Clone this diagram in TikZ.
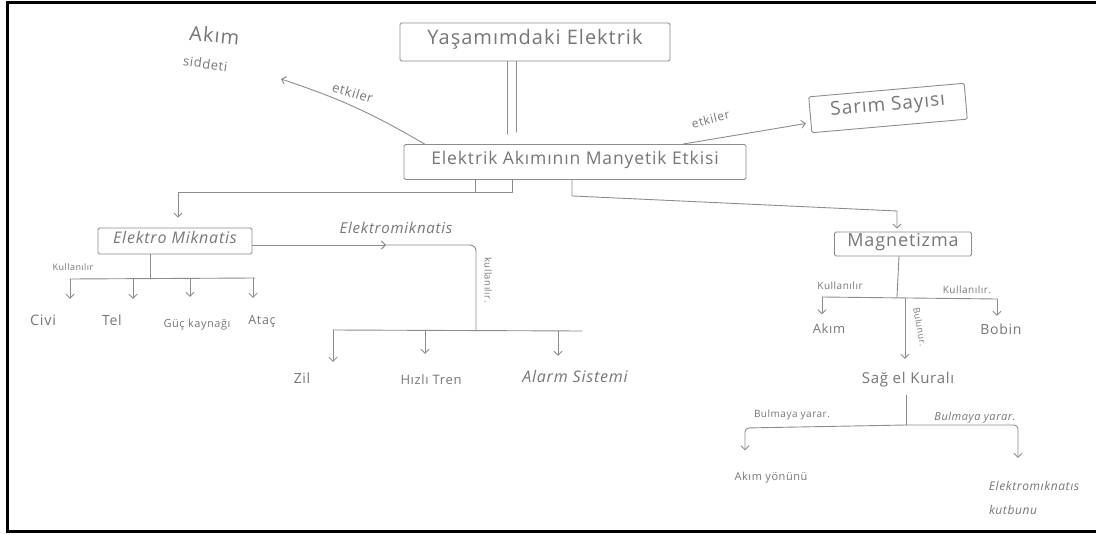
\documentclass[tikz,border=0pt]{standalone}
\usepackage{fontspec}
\setmainfont{Open Sans}[LetterSpace=5]
\usetikzlibrary{arrows.meta}
\definecolor{pencil}{HTML}{8C8C8C}
\definecolor{graphite}{HTML}{767676}
\newcommand\penfont[1]{\fontsize{#1}{#1}\selectfont}
\begin{document}
\begin{tikzpicture}[x=1pt,y=-1pt,
  txt/.style={text=graphite, inner sep=1pt, text height=0.75em, text depth=0.25em},
  conbox/.style={txt, draw=pencil, line width=0.9pt, rounded corners=1.5pt},
  link/.style={draw=pencil, line width=0.9pt, line cap=round, line join=round},
  tip/.style={link, -{Straight Barb[length=4pt,width=8pt,line width=0.9pt]}},
]
\useasboundingbox (0,0) rectangle (1096,535);
% page frame
\draw[line width=3pt] (1096,3) -- (7,3) -- (7,531) -- (1096,531);

% concept boxes
\node[conbox, minimum width=270pt, minimum height=38pt, font=\penfont{20}] (top) at (535,42) {Yaşamımdaki Elektrik};
\node[conbox, minimum width=342pt, minimum height=35pt, font=\penfont{17.5}] (main) at (575,162) {Elektrik Akımının Manyetik Etkisi};
\node[conbox, minimum width=156pt, minimum height=36pt, rotate=5, font=\penfont{19}] (sarim) at (888,108) {Sarım Sayısı};
\node[conbox, minimum width=154pt, minimum height=26pt, font=\penfont{16}\itshape] (elmag) at (175,241) {Elektro Miknatis};
\node[conbox, minimum width=137pt, minimum height=24pt, font=\penfont{18}] (mag) at (903,244) {Magnetizma};

% free concepts
\node[txt, rotate=-5, font=\penfont{20}] (akim) at (214,40) {Akım};
\node[txt, rotate=-8, font=\penfont{13}] (siddet) at (205,66) {siddeti};
\node[txt, font=\penfont{14.5}] (civi) at (43,323) {Civi};
\node[txt, font=\penfont{14}] (tel) at (112,323) {Tel};
\node[txt, font=\penfont{11}] (guc) at (197,325) {Güç kaynağı};
\node[txt, font=\penfont{12.5}] (atac) at (262,322) {Ataç};
\node[txt, font=\penfont{14}] (zil) at (302,381) {Zil};
\node[txt, font=\penfont{13}] (hizli) at (431,382) {Hızlı Tren};
\node[txt, font=\penfont{16}\itshape] (alarm) at (575,380) {Alarm Sistemi};
\node[txt, font=\penfont{13}] (akim2) at (829,331) {Akım};
\node[txt, font=\penfont{14}] (bobin) at (1001,332) {Bobin};
\node[txt, font=\penfont{15}] (sagel) at (908,381) {Sağ el Kuralı};
\node[txt, font=\penfont{11}] (yon) at (771,478) {Akım yönünü};
\node[txt, font=\penfont{12}\itshape] (elmk) at (1034,488) {Elektromıknatıs};
\node[txt, font=\penfont{12}\itshape] (kutup) at (1013,512) {kutbunu};

% link labels
\node[txt, rotate=-17, font=\penfont{13}] (etk1) at (352,95) {etkiler};
\node[txt, rotate=14, font=\penfont{12}] (etk2) at (711,121) {etkiler};
\node[txt, font=\penfont{9}] (kul1) at (73,268) {Kullanılır};
\node[txt, font=\penfont{15}\itshape] (em) at (396,231) {Elektromiknatis};
\node[txt, rotate=-90, font=\penfont{9.5}] (kul2) at (487,280) {kullanılır.};
\node[txt, font=\penfont{10}] (kul3) at (840,287) {Kullanılır};
\node[txt, font=\penfont{10}] (kul4) at (967,291) {Kullanılır.};
\node[txt, rotate=-80, font=\penfont{9}] (bul) at (919,327) {Bulunur.};
\node[txt, font=\penfont{10}] (by1) at (792,415) {Bulmaya yarar.};
\node[txt, font=\penfont{11}\itshape] (by2) at (975,418) {Bulmaya yarar.};

% junction points
\coordinate (akimtip) at (281,79);
\coordinate (jB) at (178,192);
\coordinate (jC) at (897,211);
\coordinate (jD) at (70,279);
\coordinate (jE) at (255,278);
\coordinate (b2) at (133,279);
\coordinate (b3) at (190,279);
\coordinate (b4) at (253,278);
\coordinate (em1) at (386,245);
\coordinate (em2) at (476,245);
\coordinate (jF) at (476,330);
\coordinate (jG) at (333,330);
\coordinate (jH) at (582,331);
\coordinate (c2) at (425,330);
\coordinate (c3) at (558,331);
\coordinate (jI) at (897,297);
\coordinate (mL) at (822,297);
\coordinate (mR) at (997,299);
\coordinate (mM) at (905,298);
\coordinate (jJ) at (906,425);
\coordinate (sL) at (745,428);
\coordinate (sR) at (1018,425);

% top concept to main concept (double stroke)
\draw[link, shorten >=10pt] ([xshift=-28pt]top.south) -- ([xshift=-28pt]top.south |- main.north);
\draw[link, shorten >=12pt] ([xshift=-19pt]top.south) -- ([xshift=-19pt]top.south |- main.north);

% "etkiler" links
\draw[tip] ([xshift=21pt]main.north west) to[bend right=6] (akimtip);
\draw[tip, shorten >=4pt] ([xshift=108pt]main.north) -- ([yshift=-8pt]sarim.west);

% main concept to Elektro Miknatis
\draw[link] ([xshift=-100pt]main.south) -- ++(0,12);
\draw[tip] ([xshift=-63pt]main.south) |- (jB) -- ([yshift=10pt]jB |- elmag.north);

% main concept to Magnetizma
\draw[tip] ([xshift=-3pt]main.south) -- ++(0,16) -- (jC) -- ([yshift=3pt]jC |- mag.north);

% Elektro Miknatis uses
\draw[link] ([xshift=-25pt]elmag.south) -- ([xshift=-25pt]elmag.south |- jD);
\draw[link] (jD) -- (jE);
\draw[tip, shorten >=18pt] (jD) -- (jD |- civi.north);
\draw[tip, shorten >=18pt] (b2) -- (b2 |- tel.north);
\draw[tip, shorten >=22pt] (b3) -- (b3 |- guc.north);
\draw[tip, shorten >=18pt] (b4) -- (b4 |- atac.north);

% Elektromiknatis applications
\draw[tip] ([yshift=-4pt]elmag.east) -- (em1);
\draw[link, rounded corners=6pt] (em1) -- (em2) -- (jF);
\draw[link] (jG) -- (jH);
\draw[tip, shorten >=13pt] (jG) -- (jG |- zil.north);
\draw[tip, shorten >=22pt] (c2) -- (c2 |- hizli.north);
\draw[tip, shorten >=18pt] (c3) -- (c3 |- alarm.north);

% Magnetizma branches
\draw[link] ([xshift=-4pt]mag.south) -- (jI);
\draw[link] (mL) -- (mR);
\draw[tip, shorten >=10.5pt] (mL) -- (mL |- akim2.north);
\draw[tip, shorten >=10pt] (mR) -- (mR |- bobin.north);
\draw[tip, shorten >=16pt] (mM) -- (mM |- sagel.north);

% Sag el Kurali branches
\draw[link, shorten <=8pt] ([xshift=-2pt]sagel.south) -- (jJ);
\draw[tip, rounded corners=4pt, shorten >=21.5pt] (jJ) -- (sL) -- (sL |- yon.north);
\draw[tip, rounded corners=4pt, shorten >=24pt] (jJ) -- (sR) -- (sR |- elmk.north);
\end{tikzpicture}
\end{document}
